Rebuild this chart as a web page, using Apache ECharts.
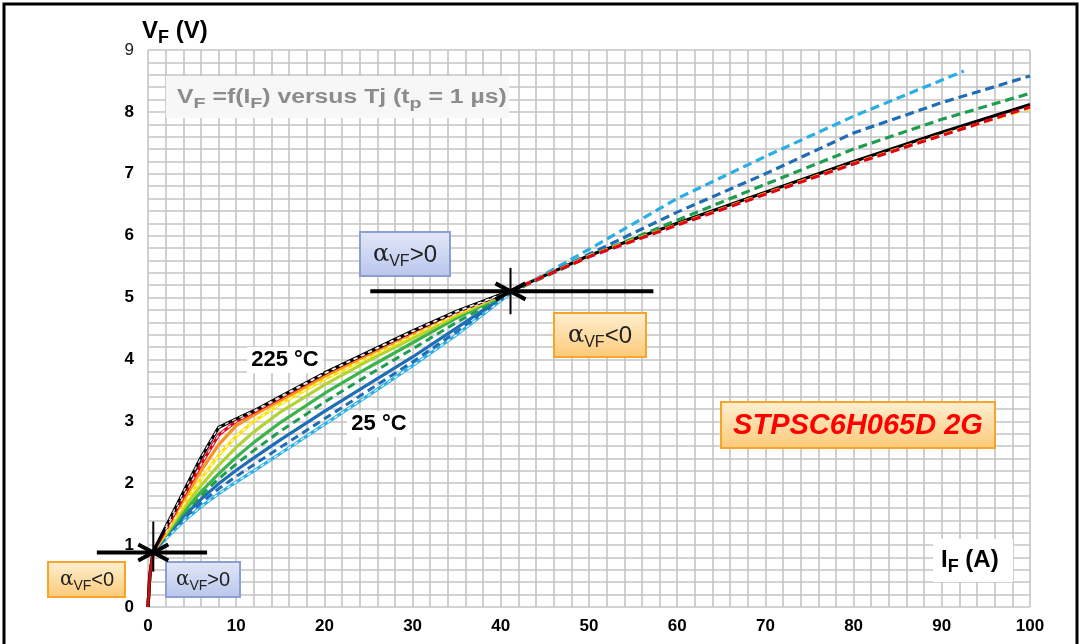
<!DOCTYPE html>
<html><head><meta charset="utf-8">
<script src="https://cdn.jsdelivr.net/npm/echarts@6/dist/echarts.min.js"></script>
<style>html,body{margin:0;padding:0;background:#fff}#c{width:1082px;height:644px}</style>
</head><body><div id="c"></div>
<script>
// ---------- data ----------
const I_LOW = [0, 0.2, 0.6, 2, 4, 6, 8, 10, 12, 15, 20, 25, 30, 35, 41];
const I_HIGH = [41, 50, 60, 70, 80, 90, 100];
const I_HIGH_25 = [41, 50, 60, 70, 80, 92.5];

// measured (solid) curves, V_F at I_LOW
const VF_225 = [0, 0.5, 0.9, 1.29, 1.85, 2.41, 2.9, 3.04, 3.17, 3.4, 3.78, 4.12, 4.46, 4.78, 5.1];
const VF_200 = [0, 0.5, 0.9, 1.25, 1.78, 2.3, 2.78, 3.0, 3.15, 3.38, 3.77, 4.11, 4.45, 4.77, 5.1];
const VF_175 = [0, 0.5, 0.9, 1.22, 1.72, 2.2, 2.62, 2.93, 3.1, 3.34, 3.73, 4.08, 4.42, 4.76, 5.1];
const VF_150 = [0, 0.5, 0.9, 1.2, 1.65, 2.07, 2.45, 2.76, 3.0, 3.28, 3.68, 4.04, 4.39, 4.74, 5.1];
const VF_125 = [0, 0.5, 0.9, 1.18, 1.59, 1.96, 2.29, 2.58, 2.83, 3.15, 3.59, 3.98, 4.34, 4.71, 5.1];
const VF_100 = [0, 0.5, 0.9, 1.16, 1.53, 1.86, 2.15, 2.42, 2.66, 2.98, 3.45, 3.87, 4.27, 4.67, 5.09];
const VF_50 = [0, 0.5, 0.9, 1.13, 1.46, 1.74, 1.99, 2.21, 2.41, 2.7, 3.16, 3.6, 4.04, 4.51, 5.08];
const VF_25 = [0, 0.5, 0.9, 1.1, 1.38, 1.62, 1.83, 2.02, 2.2, 2.48, 2.95, 3.42, 3.9, 4.4, 5.06];

// model (dashed) curves in the low-current range
const VF_75_MODEL_LOW = [0, 0.5, 0.9, 1.15, 1.5, 1.8, 2.07, 2.31, 2.53, 2.84, 3.31, 3.75, 4.17, 4.6, 5.08];
const VF_50_MODEL_LOW = [0, 0.5, 0.9, 1.12, 1.42, 1.68, 1.91, 2.11, 2.3, 2.58, 3.04, 3.5, 3.96, 4.45, 5.07];

// model (dashed) curves in the high-current range
const VF_225_HIGH = [5.1, 5.68, 6.2, 6.7, 7.2, 7.67, 8.12];
const VF_200_HIGH = [5.1, 5.66, 6.17, 6.67, 7.16, 7.62, 8.08];
const VF_150_HIGH = [5.1, 5.67, 6.18, 6.68, 7.17, 7.63, 8.06];
const VF_75_HIGH = [5.08, 5.66, 6.25, 6.83, 7.4, 7.88, 8.3];
const VF_50_HIGH = [5.08, 5.7, 6.38, 7.0, 7.66, 8.15, 8.58];
const VF_25_HIGH = [5.06, 5.78, 6.6, 7.28, 7.93, 8.66];

// annotation anchors, in data units (I_F, V_F)
const CROSS_HIGH_CENTER = [41.1, 5.1];
const CROSS_HIGH_HSPAN = [25.2, 57.3];
const CROSS_HIGH_VSPAN = [4.73, 5.48];
const CROSS_LOW_CENTER = [0.6, 0.88];
const CROSS_LOW_HSPAN = [-5.8, 6.7];
const CROSS_LOW_VSPAN = [0.57, 1.38];

const COL = {
  c225: '#000000', c200: '#e3001b', c175: '#f7941d', c150: '#ffe000',
  c125: '#b3d334', c100: '#3cb44a', c75: '#1f9d4f', c50: '#1f6db5', c25: '#2aaee5'
};
const FONT = 'Liberation Sans, Arial, Helvetica, sans-serif';
const WHITE_DASH = 'rgba(255,255,255,0.85)';

function pairs(xs, ys) { return xs.map((x, i) => [x, ys[i]]); }

function solid(name, xs, ys, color, w) {
  return { name, type: 'line', data: pairs(xs, ys), showSymbol: false, symbol: 'none',
    lineStyle: { color, width: w || 3.2, type: 'solid' }, silent: true, animation: false };
}
function dashed(name, xs, ys, color, w, dash) {
  return { name, type: 'line', data: pairs(xs, ys), showSymbol: false, symbol: 'none',
    lineStyle: { color, width: w || 3.2, type: dash || [9, 5] }, silent: true, animation: false };
}

const series = [
  solid('25 °C', I_LOW, VF_25, COL.c25),
  dashed('50 °C model', I_LOW, VF_50_MODEL_LOW, COL.c50, 3, [8, 5]),
  solid('50 °C', I_LOW, VF_50, COL.c50),
  dashed('75 °C model', I_LOW, VF_75_MODEL_LOW, COL.c75, 3, [8, 5]),
  solid('100 °C', I_LOW, VF_100, COL.c100),
  solid('125 °C', I_LOW, VF_125, COL.c125),
  solid('150 °C', I_LOW, VF_150, COL.c150),
  solid('175 °C', I_LOW, VF_175, COL.c175),
  solid('200 °C', I_LOW, VF_200, COL.c200),
  solid('225 °C', I_LOW.concat(I_HIGH.slice(1)), VF_225.concat(VF_225_HIGH.slice(1)), COL.c225),
  dashed('25 °C w', I_LOW.slice(3), VF_25.slice(3), WHITE_DASH, 1.4, [4, 4]),
  dashed('150 °C w', I_LOW.slice(3), VF_150.slice(3), WHITE_DASH, 1.4, [4, 4]),
  dashed('200 °C w', I_LOW.slice(3), VF_200.slice(3), WHITE_DASH, 1.4, [4, 4]),
  dashed('225 °C w', I_LOW.slice(3), VF_225.slice(3), WHITE_DASH, 1.4, [4, 4]),
  solid('200 °C origin', I_LOW.slice(0, 3), VF_200.slice(0, 3), '#c0101a', 2.6),
  dashed('25 °C high', I_HIGH_25, VF_25_HIGH, COL.c25),
  dashed('50 °C high', I_HIGH, VF_50_HIGH, COL.c50),
  dashed('75 °C high', I_HIGH, VF_75_HIGH, COL.c75),
  dashed('150 °C high', I_HIGH, VF_150_HIGH, COL.c150),
  dashed('200 °C high', I_HIGH, VF_200_HIGH, COL.c200)
];

const gridLine = { show: true, lineStyle: { color: '#c4c4c4', width: 1.6 } };
const labelRich = {
  b: { fontSize: 17, fontWeight: 'bold', color: '#000', fontFamily: FONT },
  r: { fontSize: 17, fontWeight: 'normal', color: '#222', fontFamily: FONT }
};

const chart = echarts.init(document.getElementById('c'), null, { renderer: 'canvas' });
chart.setOption({
  animation: false,
  backgroundColor: '#ffffff',
  grid: { left: 148, right: 52, top: 50, bottom: 37, containLabel: false },
  xAxis: {
    type: 'value', min: 0, max: 100, interval: 10,
    axisLine: { show: false }, axisTick: { show: false },
    axisLabel: { margin: 11, formatter: v => '{b|' + v + '}', rich: labelRich },
    splitLine: gridLine,
    minorTick: { show: false, splitNumber: 5 },
    minorSplitLine: gridLine
  },
  yAxis: {
    type: 'value', min: 0, max: 9, interval: 1,
    axisLine: { show: false }, axisTick: { show: false },
    axisLabel: { margin: 14, formatter: v => (v === 9 ? '{r|9}' : '{b|' + v + '}'), rich: labelRich },
    splitLine: gridLine,
    minorTick: { show: false, splitNumber: 5 },
    minorSplitLine: gridLine
  },
  series
});

// ---------- annotations ----------
const px = p => chart.convertToPixel({ gridIndex: 0 }, p);

function cross(center, hspan, vspan) {
  const c = px(center);
  const h0 = px([hspan[0], center[1]]), h1 = px([hspan[1], center[1]]);
  const v0 = px([center[0], vspan[0]]), v1 = px([center[0], vspan[1]]);
  const st = { stroke: '#000', lineWidth: 4, fill: null };
  return [
    { type: 'polyline', z: 50, shape: { points: [h0, h1] }, style: st },
    { type: 'polyline', z: 50, shape: { points: [v0, v1] }, style: { stroke: '#000', lineWidth: 2, fill: null } },
    { type: 'polyline', z: 50, shape: { points: [[c[0] - 15, c[1] - 8], c, [c[0] - 15, c[1] + 8]] }, style: st },
    { type: 'polyline', z: 50, shape: { points: [[c[0] + 15, c[1] - 8], c, [c[0] + 15, c[1] + 8]] }, style: st }
  ];
}

const blueFill = { type: 'linear', x: 0, y: 0, x2: 0, y2: 1, colorStops: [{ offset: 0, color: '#e3e8f8' }, { offset: 1, color: '#b9c6ec' }] };
const orangeFill = { type: 'linear', x: 0, y: 0, x2: 0, y2: 1, colorStops: [{ offset: 0, color: '#fef0d2' }, { offset: 1, color: '#fcc977' }] };

function box(x, y, w, h, fill, stroke) {
  return { type: 'rect', z: 40, shape: { x, y, width: w, height: h }, style: { fill, stroke, lineWidth: 2 } };
}
function txt(x, y, text, rich, align, scaleX) {
  return { type: 'text', z: 60, x, y, scaleX: scaleX || 1,
    style: { x: 0, y: 0, text, rich, align: align || 'center', verticalAlign: 'middle',
      textAlign: align || 'center', textVerticalAlign: 'middle' } };
}

function alphaRich(size) {
  return {
    a: { fontSize: size, fontFamily: 'DejaVu Serif, serif', fill: '#222', lineHeight: size + 6 },
    s: { fontSize: Math.round(size * 0.68), fontFamily: FONT, fill: '#222', verticalAlign: 'bottom', lineHeight: Math.round(size * 0.68) },
    t: { fontSize: size, fontFamily: FONT, fill: '#222', lineHeight: size + 6 }
  };
}

const titleRich = {
  m: { fontSize: 19.5, fontWeight: 'bold', fontFamily: FONT, fill: '#8c8c8c', lineHeight: 28 },
  s: { fontSize: 15.5, fontWeight: 'bold', fontFamily: FONT, fill: '#8c8c8c', verticalAlign: 'bottom', lineHeight: 16 }
};
const axisNameRich = {
  m: { fontSize: 24, fontWeight: 'bold', fontFamily: FONT, fill: '#000', lineHeight: 32 },
  s: { fontSize: 18, fontWeight: 'bold', fontFamily: FONT, fill: '#000', verticalAlign: 'bottom', lineHeight: 18 }
};
const boldRich = { m: { fontSize: 22, fontWeight: 'bold', fontFamily: FONT, fill: '#000' } };

const graphics = [].concat(
  // outer frame
  [{ type: 'rect', z: 100, shape: { x: 4, y: 4, width: 1073, height: 660 }, style: { fill: null, stroke: '#000', lineWidth: 3 } }],
  // axis names
  [txt(142, 31, '{m|V}{s|F}{m| (V)}', axisNameRich, 'left')],
  [{ type: 'rect', z: 39, shape: { x: 933, y: 539, width: 80, height: 43 }, style: { fill: '#fff' } },
   txt(941, 560, '{m|I}{s|F}{m| (A)}', axisNameRich, 'left')],
  // description
  [{ type: 'rect', z: 39, shape: { x: 166, y: 76, width: 343, height: 42 }, style: { fill: '#f7f7f7' } },
   txt(177, 98, '{m|V}{s|F}{m| =f(I}{s|F}{m|) versus Tj (t}{s|p}{m| = 1 µs)}', titleRich, 'left', 1.27)],
  // temperature labels
  [{ type: 'rect', z: 39, shape: { x: 247, y: 347, width: 76, height: 26 }, style: { fill: '#fff' } },
   txt(285, 360, '{m|225 °C}', boldRich)],
  [{ type: 'rect', z: 39, shape: { x: 347, y: 411, width: 63, height: 26 }, style: { fill: '#fff' } },
   txt(379, 424, '{m|25 °C}', boldRich)],
  // part number
  [box(721, 402, 274, 46, orangeFill, '#f6a42c'),
   txt(858, 426, '{m|STPSC6H065D 2G}', { m: { fontSize: 29, fontWeight: 'bold', fontStyle: 'italic', fontFamily: FONT, fill: '#ff0000' } })],
  // alpha boxes
  [box(360, 232, 90, 44, blueFill, '#8d9fd0'), txt(405, 255, '{a|α}{s|VF}{t|>0}', alphaRich(24))],
  [box(554, 313, 92, 44, orangeFill, '#f6a42c'), txt(600, 336, '{a|α}{s|VF}{t|<0}', alphaRich(24))],
  [box(48, 562, 77, 35, orangeFill, '#f6a42c'), txt(87, 580, '{a|α}{s|VF}{t|<0}', alphaRich(20))],
  [box(166, 562, 74, 35, blueFill, '#8d9fd0'), txt(203, 580, '{a|α}{s|VF}{t|>0}', alphaRich(20))],
  // crosshair markers
  cross(CROSS_HIGH_CENTER, CROSS_HIGH_HSPAN, CROSS_HIGH_VSPAN),
  cross(CROSS_LOW_CENTER, CROSS_LOW_HSPAN, CROSS_LOW_VSPAN)
);
chart.setOption({ graphic: graphics });
</script>
</body></html>
